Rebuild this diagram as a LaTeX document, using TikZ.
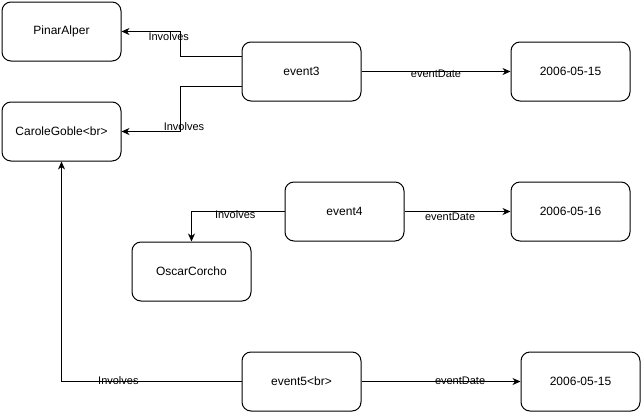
\documentclass[tikz,border=0pt]{standalone}
\usepackage{fontspec}
\setmainfont{Liberation Sans}
\usetikzlibrary{arrows.meta}
\begin{document}
\begin{tikzpicture}[x=1pt, y=-1pt, line width=1pt,
  box/.style = {shape=rectangle, rounded corners=9pt, draw,
    minimum width=119pt, minimum height=59pt, align=center,
    font=\fontsize{12}{14}\selectfont},
  lbl/.style = {font=\fontsize{11}{13}\selectfont, inner sep=0pt},
  arr/.style = {-{Stealth[length=8pt,width=7pt,inset=2.5pt]}}]
  \useasboundingbox (0,0) rectangle (643,413);
  \node[box] (pinar) at (61.5,31.5) {PinarAlper};
  \node[box] (carole) at (61.5,131.5) {CaroleGoble<br>};
  \node[box] (oscar) at (191.5,271.5) {OscarCorcho};
  \node[box] (ev3) at (301.5,71.5) {event3};
  \node[box] (ev4) at (344.5,211.5) {event4};
  \node[box] (ev5) at (301.5,381.5) {event5<br>};
  \node[box] (date3) at (570.5,71.5) {2006-05-15};
  \node[box] (date4) at (570.5,211.5) {2006-05-16};
  \node[box] (date5) at (580.5,381.5) {2006-05-15};
  \draw[arr] ([yshift=15pt]ev3.west) -- ++(-61,0) |- node[lbl, pos=0.6, yshift=-5.5pt] {Involves} (pinar);
  \draw[arr] ([yshift=-14.5pt]ev3.west) -- ++(-61,0) |- node[lbl, pos=0.5, xshift=3.5pt, yshift=4.5pt] {Involves} (carole);
  \draw[arr] (ev3) -- node[lbl, pos=0.5, yshift=-2.5pt] {eventDate} (date3);
  \draw[arr] (ev4) -| node[lbl, pos=0.265, yshift=-3.5pt] {Involves} (oscar);
  \draw[arr] (ev4) -- node[lbl, pos=0.43, yshift=-5.5pt] {eventDate} (date4);
  \draw[arr] (ev5) -| node[lbl, pos=0.342, yshift=1pt] {Involves} (carole);
  \draw[arr] (ev5) -- node[lbl, pos=0.62, yshift=0.5pt] {eventDate} (date5);
\end{tikzpicture}
\end{document}
